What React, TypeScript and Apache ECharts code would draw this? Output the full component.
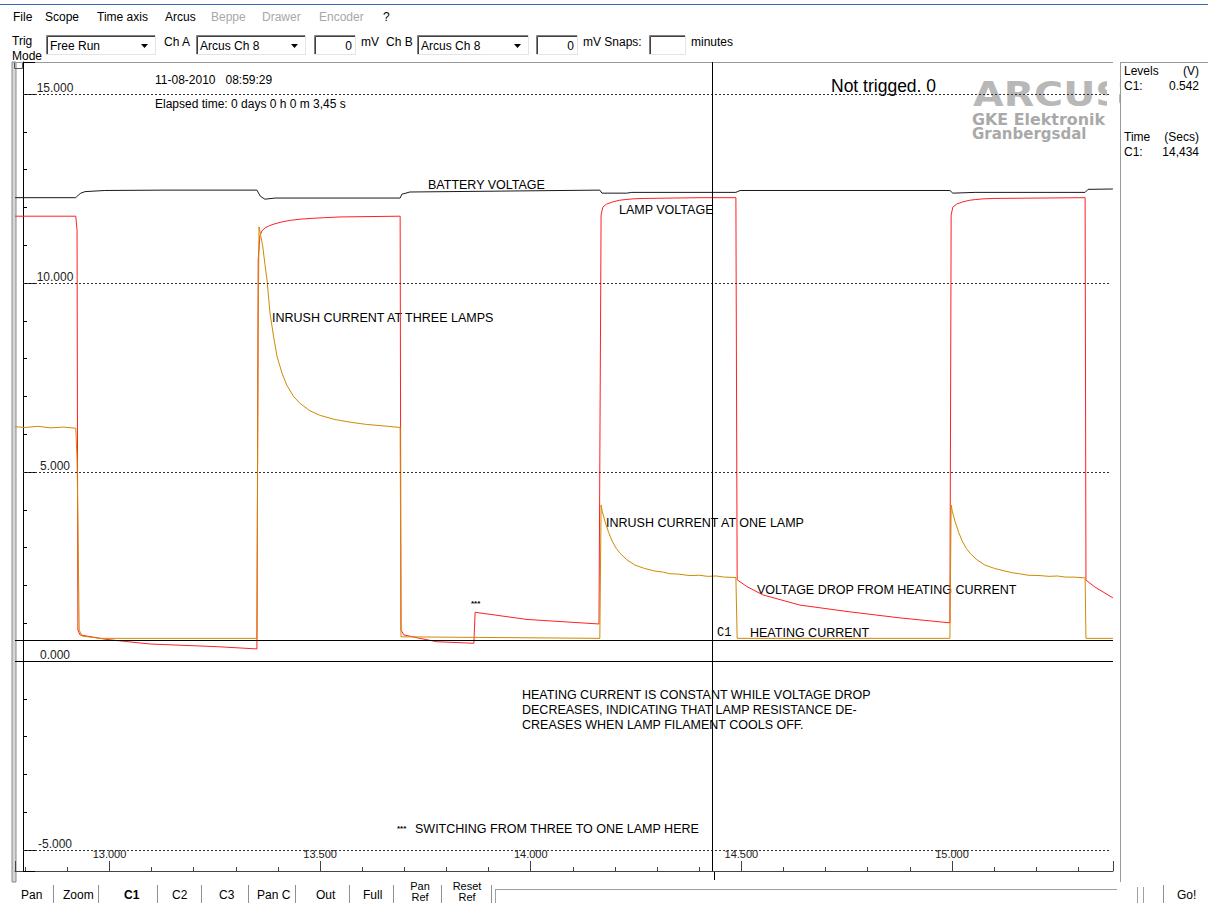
import { useEffect, useRef } from "react";
import * as echarts from "echarts";

// ---- data (time in s, level in V) ----
const BATTERY_T = [12.776, 12.920, 12.926, 12.932, 12.942, 12.989, 13.132, 13.350, 13.354, 13.358, 13.369, 13.393, 13.690, 13.694, 13.713, 14.164, 14.169, 14.228, 14.240, 14.487, 14.497, 14.995, 15.002, 15.055, 15.316, 15.323, 15.382];
const BATTERY_V = [12.26, 12.26, 12.33, 12.38, 12.42, 12.45, 12.46, 12.46, 12.38, 12.30, 12.22, 12.25, 12.25, 12.35, 12.41, 12.46, 12.38, 12.38, 12.40, 12.40, 12.45, 12.45, 12.38, 12.40, 12.40, 12.48, 12.49];

const LAMP_T = [12.776, 12.920, 12.923, 12.925, 12.930, 12.994, 13.096, 13.255, 13.350, 13.353, 13.357, 13.362, 13.369, 13.380, 13.393, 13.410, 13.429, 13.452, 13.476, 13.510, 13.547, 13.690, 13.692, 13.699, 13.737, 13.777, 13.865, 13.868, 13.991, 14.162, 14.167, 14.171, 14.180, 14.195, 14.210, 14.224, 14.245, 14.271, 14.402, 14.487, 14.490, 14.513, 14.551, 14.639, 14.758, 14.877, 14.995, 14.998, 15.002, 15.011, 15.026, 15.041, 15.055, 15.076, 15.102, 15.316, 15.318, 15.339, 15.382];
const LAMP_V = [11.77, 11.77, 11.40, 0.82, 0.69, 0.57, 0.45, 0.38, 0.32, 10.61, 11.25, 11.38, 11.46, 11.52, 11.57, 11.62, 11.66, 11.69, 11.71, 11.73, 11.75, 11.77, 0.82, 0.69, 0.60, 0.51, 0.47, 1.29, 1.10, 0.98, 11.80, 12.01, 12.09, 12.15, 12.19, 12.21, 12.23, 12.24, 12.26, 12.26, 2.15, 1.97, 1.75, 1.48, 1.30, 1.14, 1.01, 11.80, 12.01, 12.09, 12.15, 12.19, 12.21, 12.23, 12.24, 12.26, 2.14, 1.96, 1.67];

const CURRENT_T = [12.776, 12.800, 12.830, 12.860, 12.890, 12.920, 12.923, 12.925, 12.928, 12.935, 12.977, 13.350, 13.353, 13.355, 13.360, 13.364, 13.369, 13.374, 13.381, 13.390, 13.398, 13.410, 13.421, 13.437, 13.452, 13.476, 13.500, 13.535, 13.571, 13.610, 13.642, 13.690, 13.692, 14.164, 14.167, 14.170, 14.176, 14.185, 14.193, 14.203, 14.212, 14.228, 14.247, 14.270, 14.295, 14.315, 14.330, 14.350, 14.378, 14.400, 14.420, 14.440, 14.460, 14.487, 14.490, 14.995, 14.998, 15.001, 15.007, 15.016, 15.024, 15.034, 15.043, 15.059, 15.078, 15.101, 15.126, 15.146, 15.160, 15.180, 15.209, 15.230, 15.250, 15.270, 15.290, 15.316, 15.318, 15.382];
const CURRENT_V = [6.20, 6.18, 6.21, 6.17, 6.19, 6.16, 5.32, 3.73, 0.82, 0.66, 0.60, 0.60, 8.76, 11.49, 11.20, 10.96, 10.50, 10.08, 9.21, 8.55, 8.05, 7.60, 7.30, 7.00, 6.82, 6.62, 6.50, 6.39, 6.32, 6.26, 6.23, 6.18, 0.64, 0.60, 4.13, 3.95, 3.70, 3.40, 3.18, 2.98, 2.85, 2.68, 2.54, 2.45, 2.38, 2.35, 2.31, 2.30, 2.26, 2.27, 2.24, 2.25, 2.22, 2.21, 0.60, 0.60, 4.13, 3.95, 3.70, 3.40, 3.18, 2.98, 2.85, 2.68, 2.54, 2.45, 2.38, 2.33, 2.31, 2.27, 2.26, 2.24, 2.25, 2.22, 2.22, 2.20, 0.60, 0.60];

const Y_GRID_LEVELS = [-5, 5, 10, 15];
const ZERO_LEVEL = 0;
const LEVEL_C1 = 0.542;
const TIME_C1 = 14.434;

const X_MIN = 12.7757;
const X_MAX = 15.3822;
const Y_MIN = -5.556;
const Y_MAX = 15.85;
const GRID_T0 = 12.7947;
const GRID_T1 = 15.375;

const FONT = "Liberation Sans, Arial, sans-serif";
const LOGO_FONT = "DejaVu Sans, Verdana, sans-serif";

function txt(x: number, y: number, text: string, extra: any = {}) {
  return {
    type: "text",
    x,
    y,
    silent: true,
    style: {
      text,
      fontSize: 12,
      fontFamily: FONT,
      fill: "#000",
      align: "left",
      verticalAlign: "middle",
      ...extra,
    },
  };
}
function ln(x1: number, y1: number, x2: number, y2: number, stroke = "#808080", lineWidth = 1) {
  return { type: "line", silent: true, shape: { x1, y1, x2, y2 }, style: { stroke, lineWidth } };
}
function box(x: number, y: number, w: number, h: number) {
  return [
    { type: "rect", silent: true, shape: { x, y, width: w, height: h }, style: { fill: "#fff" } },
    ln(x + 0.5, y + 0.5, x + w, y + 0.5, "#808080"),
    ln(x + 0.5, y + 0.5, x + 0.5, y + h, "#808080"),
    ln(x + 1.5, y + 1.5, x + w - 1, y + 1.5, "#404040"),
    ln(x + 1.5, y + 1.5, x + 1.5, y + h - 1, "#404040"),
    ln(x, y + h - 0.5, x + w, y + h - 0.5, "#e4e4e4"),
    ln(x + w - 0.5, y, x + w - 0.5, y + h, "#e4e4e4"),
  ];
}
function combo(x: number, y: number, w: number, h: number, text: string) {
  return [
    ...box(x, y, w, h),
    txt(x + 4, y + h / 2 + 1, text),
    {
      type: "polygon",
      silent: true,
      shape: { points: [[x + w - 15, y + h / 2 - 1], [x + w - 8, y + h / 2 - 1], [x + w - 11.5, y + h / 2 + 3]] },
      style: { fill: "#000" },
    },
  ];
}
function input(x: number, y: number, w: number, h: number, text: string) {
  return [...box(x, y, w, h), txt(x + w - 4, y + h / 2 + 1, text, { align: "right" })];
}

function buildGraphics() {
  const g: any[] = [];
  // menu bar
  g.push(ln(0, 4.5, 1208, 4.5, "#3a64b4"));
  const menu: [string, number, boolean][] = [
    ["File", 13, true], ["Scope", 45, true], ["Time axis", 97, true], ["Arcus", 165, true],
    ["Beppe", 211, false], ["Drawer", 262, false], ["Encoder", 319, false], ["?", 383, true],
  ];
  menu.forEach(([t, x, en]) => g.push(txt(x, 17, t, { fill: en ? "#000" : "#a8a8a8" })));

  // toolbar
  g.push(txt(12, 41, "Trig"));
  g.push(txt(12, 56, "Mode"));
  g.push(...combo(46, 35, 110, 20, "Free Run"));
  g.push(txt(164, 42, "Ch A"));
  g.push(...combo(196, 35, 110, 20, "Arcus Ch 8"));
  g.push(...input(314, 35, 42, 20, "0"));
  g.push(txt(361, 42, "mV"));
  g.push(txt(386, 42, "Ch B"));
  g.push(...combo(417, 35, 112, 20, "Arcus Ch 8"));
  g.push(...input(536, 35, 42, 20, "0"));
  g.push(txt(583, 42, "mV Snaps:"));
  g.push(...input(649, 35, 37, 20, ""));
  g.push(txt(691, 42, "minutes"));

  // plot frame
  g.push({ type: "rect", silent: true, shape: { x: 12, y: 62, width: 4, height: 820 }, style: { fill: "#d6d6d6", stroke: "#8a8a8a", lineWidth: 1 } });
  g.push({ type: "rect", silent: true, shape: { x: 14.5, y: 62.5, width: 8, height: 6 }, style: { fill: "none", stroke: "#555", lineWidth: 1 } });
  g.push(ln(12, 62.5, 1113, 62.5, "#9a9a9a"));

  // logo
  g.push({
    type: "text", x: 973, y: 95, scaleX: 1.2, silent: true,
    style: { text: "ARCUS", fontSize: 33, fontWeight: "bold", fontFamily: LOGO_FONT, fill: "#b8b8b8", verticalAlign: "middle" },
  });
  g.push({ type: "rect", silent: true, shape: { x: 1107, y: 70, width: 12, height: 45 }, style: { fill: "#fff" } });
  g.push({
    type: "text", x: 972, y: 120, scaleX: 1.06, silent: true,
    style: { text: "GKE Elektronik", fontSize: 15, fontWeight: "bold", fontFamily: LOGO_FONT, fill: "#a9a9a9", verticalAlign: "middle", lineHeight: 13 },
  });
  g.push({
    type: "text", x: 972, y: 134, scaleX: 1.0, silent: true,
    style: { text: "Granbergsdal", fontSize: 15, fontWeight: "bold", fontFamily: LOGO_FONT, fill: "#a9a9a9", verticalAlign: "middle", lineHeight: 13 },
  });

  // right panel
  g.push(ln(1120, 62.5, 1208, 62.5, "#9a9a9a"));
  g.push(ln(1120.5, 62, 1120.5, 882, "#9a9a9a"));
  g.push(txt(1124, 71, "Levels"));
  g.push(txt(1199, 71, "(V)", { align: "right" }));
  g.push(txt(1124, 86, "C1:"));
  g.push(txt(1199, 86, "0.542", { align: "right" }));
  g.push(txt(1124, 137, "Time"));
  g.push(txt(1199, 137, "(Secs)", { align: "right" }));
  g.push(txt(1124, 152, "C1:"));
  g.push(txt(1199, 152, "14,434", { align: "right" }));

  // annotations
  const A = { fontSize: 12.5 };
  g.push(txt(155, 80, "11-08-2010   08:59:29", { fontSize: 12 }));
  g.push(txt(155, 104, "Elapsed time: 0 days 0 h 0 m 3,45 s", { fontSize: 12 }));
  g.push(txt(831, 86, "Not trigged. 0", { fontSize: 17.5 }));
  g.push(txt(428, 185, "BATTERY VOLTAGE", A));
  g.push(txt(619, 210, "LAMP VOLTAGE", A));
  g.push(txt(272, 318, "INRUSH CURRENT AT THREE LAMPS", A));
  g.push(txt(606, 523, "INRUSH CURRENT AT ONE LAMP", A));
  g.push(txt(757, 590, "VOLTAGE DROP FROM HEATING CURRENT", A));
  g.push(txt(717, 633, "C1", { fontSize: 12, fontFamily: "Liberation Mono, monospace" }));
  g.push(txt(750, 633, "HEATING CURRENT", A));
  g.push(txt(471, 603, "***", { fontSize: 8, fontWeight: "bold" }));
  g.push(txt(522, 695, "HEATING CURRENT IS CONSTANT WHILE VOLTAGE DROP", A));
  g.push(txt(522, 710, "DECREASES, INDICATING THAT LAMP RESISTANCE DE-", A));
  g.push(txt(522, 725, "CREASES WHEN LAMP FILAMENT COOLS OFF.", A));
  g.push(txt(397, 828, "***", { fontSize: 8, fontWeight: "bold" }));
  g.push(txt(415, 829, "SWITCHING FROM THREE TO ONE LAMP HERE", A));

  // cursor stub below axis
  g.push(ln(714.5, 871, 714.5, 880, "#000"));

  // bottom button row
  const btn: [string, number, boolean][] = [
    ["Pan", 21, false], ["Zoom", 63, false], ["C1", 124, true], ["C2", 172, false], ["C3", 219, false],
    ["Pan C", 257, false], ["Out", 316, false], ["Full", 363, false],
  ];
  btn.forEach(([t, x, b]) => g.push(txt(x, 895, t, b ? { fontWeight: "bold" } : {})));
  g.push(txt(420, 886, "Pan", { align: "center", fontSize: 11 }));
  g.push(txt(420, 897, "Ref", { align: "center", fontSize: 11 }));
  g.push(txt(467, 886, "Reset", { align: "center", fontSize: 11 }));
  g.push(txt(467, 897, "Ref", { align: "center", fontSize: 11 }));
  [53, 98, 157, 201, 248, 295, 349, 393, 441, 491].forEach((x) => g.push(ln(x + 0.5, 885, x + 0.5, 903, "#909090")));
  g.push(ln(495, 889.5, 1117, 889.5, "#a0a0a0"));
  g.push(ln(495.5, 889, 495.5, 903, "#a0a0a0"));
  g.push(ln(1137.5, 887, 1137.5, 903, "#a0a0a0"));
  g.push(ln(1143.5, 887, 1143.5, 903, "#a0a0a0"));
  g.push(ln(1163.5, 885, 1163.5, 903, "#909090"));
  g.push(txt(1177, 895, "Go!"));
  return g;
}

function isMultiple(v: number, step: number) {
  return Math.abs(v / step - Math.round(v / step)) < 1e-6;
}

export default function App() {
  const ref = useRef<HTMLDivElement>(null);
  useEffect(() => {
    if (!ref.current) return;
    const chart = echarts.init(ref.current, undefined, { renderer: "svg" });
    const lineBase = { type: "line", showSymbol: false, symbol: "none", silent: true, animation: false };
    const option: any = {
      animation: false,
      backgroundColor: "#fff",
      textStyle: { fontFamily: FONT },
      grid: { left: 15, top: 62, width: 1098, height: 809, containLabel: false },
      xAxis: {
        type: "value",
        min: X_MIN,
        max: X_MAX,
        minInterval: 0.5,
        maxInterval: 0.5,
        splitNumber: 5,
        axisLine: { show: true, onZero: false, lineStyle: { color: "#444", width: 1 } },
        axisTick: { show: true, inside: true, length: 10, lineStyle: { color: "#444" } },
        minorTick: { show: true, splitNumber: 5, length: 4, lineStyle: { color: "#444" } },
        axisLabel: {
          inside: true, margin: 12, fontSize: 11, color: "#222", fontFamily: FONT,
          formatter: (v: number) => (isMultiple(v, 0.5) ? v.toFixed(3) : ""),
        },
        splitLine: { show: false },
        minorSplitLine: { show: false },
      },
      yAxis: {
        type: "value",
        min: Y_MIN,
        max: Y_MAX,
        minInterval: 5,
        maxInterval: 5,
        splitNumber: 4,
        offset: -8,
        axisLine: { show: true, onZero: false, lineStyle: { color: "#000", width: 1 } },
        axisTick: { show: true, inside: true, length: 12, lineStyle: { color: "#000" } },
        minorTick: { show: true, splitNumber: 5, length: 4, lineStyle: { color: "#000" } },
        axisLabel: {
          inside: true, margin: 32, align: "center", verticalAlign: "bottom", fontSize: 12, color: "#222", fontFamily: FONT,
          formatter: (v: number) => (isMultiple(v, 5) ? v.toFixed(3) : ""),
        },
        splitLine: { show: false },
        minorSplitLine: { show: false },
      },
      series: [
        {
          ...lineBase,
          name: "Lamp voltage",
          data: LAMP_T.map((t, i) => [t, LAMP_V[i]]),
          lineStyle: { color: "#ff2020", width: 1 },
          z: 3,
          markLine: {
            silent: true,
            symbol: ["none", "none"],
            label: { show: false },
            animation: false,
            data: [
              ...Y_GRID_LEVELS.map((v) => [
                { coord: [GRID_T0, v], lineStyle: { type: [2, 2], color: "#333", width: 1 } },
                { coord: [GRID_T1, v] },
              ]),
              { yAxis: ZERO_LEVEL, lineStyle: { type: "solid", color: "#000", width: 1 } },
              { yAxis: LEVEL_C1, lineStyle: { type: "solid", color: "#000", width: 1 } },
              { xAxis: TIME_C1, lineStyle: { type: "solid", color: "#000", width: 1 } },
            ],
          },
        },
        {
          ...lineBase,
          name: "Current",
          data: CURRENT_T.map((t, i) => [t, CURRENT_V[i]]),
          lineStyle: { color: "#d08a00", width: 1 },
          z: 4,
        },
        {
          ...lineBase,
          name: "Battery voltage",
          data: BATTERY_T.map((t, i) => [t, BATTERY_V[i]]),
          lineStyle: { color: "#1a1a1a", width: 1 },
          z: 4,
        },
      ],
      graphic: { elements: buildGraphics() },
    };
    chart.setOption(option);
    return () => chart.dispose();
  }, []);
  return <div ref={ref} style={{ position: "absolute", left: 0, top: 0, width: 1208, height: 903, background: "#fff" }} />;
}
